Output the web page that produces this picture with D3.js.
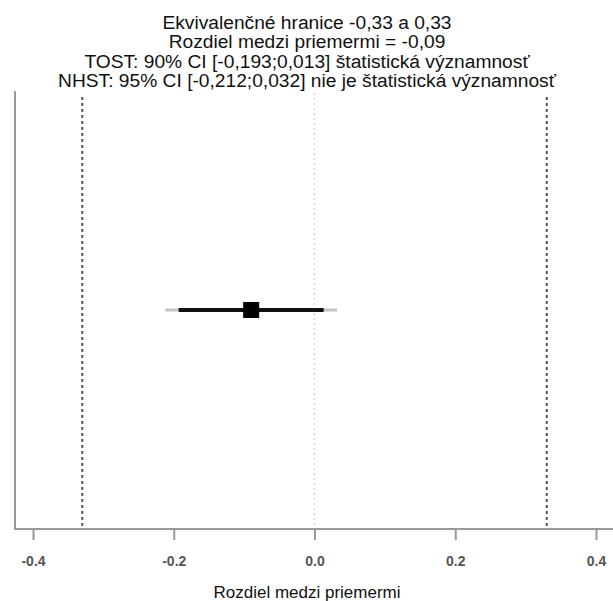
<!DOCTYPE html>
<html>
<head>
<meta charset="utf-8">
<script src="https://cdn.jsdelivr.net/npm/d3@7"></script>
<style>
  body { margin: 0; background: #fff; }
  svg text { font-family: "Liberation Sans", Arial, sans-serif; }
</style>
</head>
<body>
<svg id="chart" width="613" height="601"></svg>
<script>
// values
const titleLines = [
  'Ekvivalenčné hranice -0,33 a 0,33',
  'Rozdiel medzi priemermi = -0,09',
  'TOST: 90% CI [-0,193;0,013] štatistická významnosť',
  'NHST: 95% CI [-0,212;0,032] nie je štatistická významnosť'
];
const bounds = [-0.33, 0.33];
const estimate = -0.09;
const ci90 = [-0.193, 0.013];
const ci95 = [-0.212, 0.032];
const xTicks = [-0.4, -0.2, 0, 0.2, 0.4];
const xLabel = 'Rozdiel medzi priemermi';

let svg = d3.select('#chart'),
    width = +svg.attr('width'),
    height = +svg.attr('height');

let plotLeft = 15, plotTop = 91, plotBottom = 529;

let x = d3.scaleLinear()
  .domain([-0.4, 0.4])
  .range([33, 596]);

let y = d3.scaleLinear()
  .domain([0, 1])
  .range([plotBottom, plotTop]);

let fmt = d3.formatLocale({decimal: '.', thousands: ',', grouping: [3], currency: ['', ''], minus: '-'}).format('.1f');

// title
svg.append('g')
  .selectAll('text')
  .data(titleLines)
  .enter().append('text')
  .attr('x', 307)
  .attr('y', (d, i) => 29 + i * 19.3)
  .attr('text-anchor', 'middle')
  .attr('font-size', 19.2)
  .attr('fill', '#111')
  .text(d => d);

// zero reference line
svg.append('line')
  .attr('x1', x(0)).attr('x2', x(0))
  .attr('y1', plotTop + 2).attr('y2', plotBottom)
  .attr('stroke', '#d8d8d8')
  .attr('stroke-width', 1.5)
  .attr('stroke-dasharray', '2,3');

// equivalence bounds
svg.append('g')
  .selectAll('line')
  .data(bounds)
  .enter().append('line')
  .attr('x1', d => x(d)).attr('x2', d => x(d))
  .attr('y1', plotTop + 6).attr('y2', plotBottom)
  .attr('stroke', '#555')
  .attr('stroke-width', 2)
  .attr('stroke-dasharray', '3,3');

// axes
let axis = svg.append('g')
  .attr('transform', `translate(0,${plotBottom})`)
  .call(d3.axisBottom(x).tickValues(xTicks).tickSize(11).tickFormat(fmt).tickPadding(16));
axis.select('.domain').remove();
axis.selectAll('.tick line').attr('stroke', '#999').attr('stroke-width', 2);
axis.selectAll('.tick text')
  .attr('font-size', 14)
  .attr('font-weight', 'bold')
  .attr('fill', '#555')
  .style('font-family', '"Liberation Sans", Arial, sans-serif');

svg.append('path')
  .attr('d', `M${plotLeft},${plotTop}V${plotBottom}H${width}`)
  .attr('fill', 'none')
  .attr('stroke', '#999')
  .attr('stroke-width', 2);

svg.append('text')
  .attr('x', 307)
  .attr('y', 598)
  .attr('text-anchor', 'middle')
  .attr('font-size', 17)
  .attr('fill', '#111')
  .text(xLabel);

// estimate with intervals
let yMid = y(0.5);

svg.append('line')
  .attr('x1', x(ci95[0])).attr('x2', x(ci95[1]))
  .attr('y1', yMid).attr('y2', yMid)
  .attr('stroke', '#c4c4c4')
  .attr('stroke-width', 3);

svg.append('line')
  .attr('x1', x(ci90[0])).attr('x2', x(ci90[1]))
  .attr('y1', yMid).attr('y2', yMid)
  .attr('stroke', '#111')
  .attr('stroke-width', 4);

svg.append('rect')
  .attr('x', x(estimate) - 8)
  .attr('y', yMid - 8)
  .attr('width', 16)
  .attr('height', 16)
  .attr('fill', '#000');
</script>
</body>
</html>
